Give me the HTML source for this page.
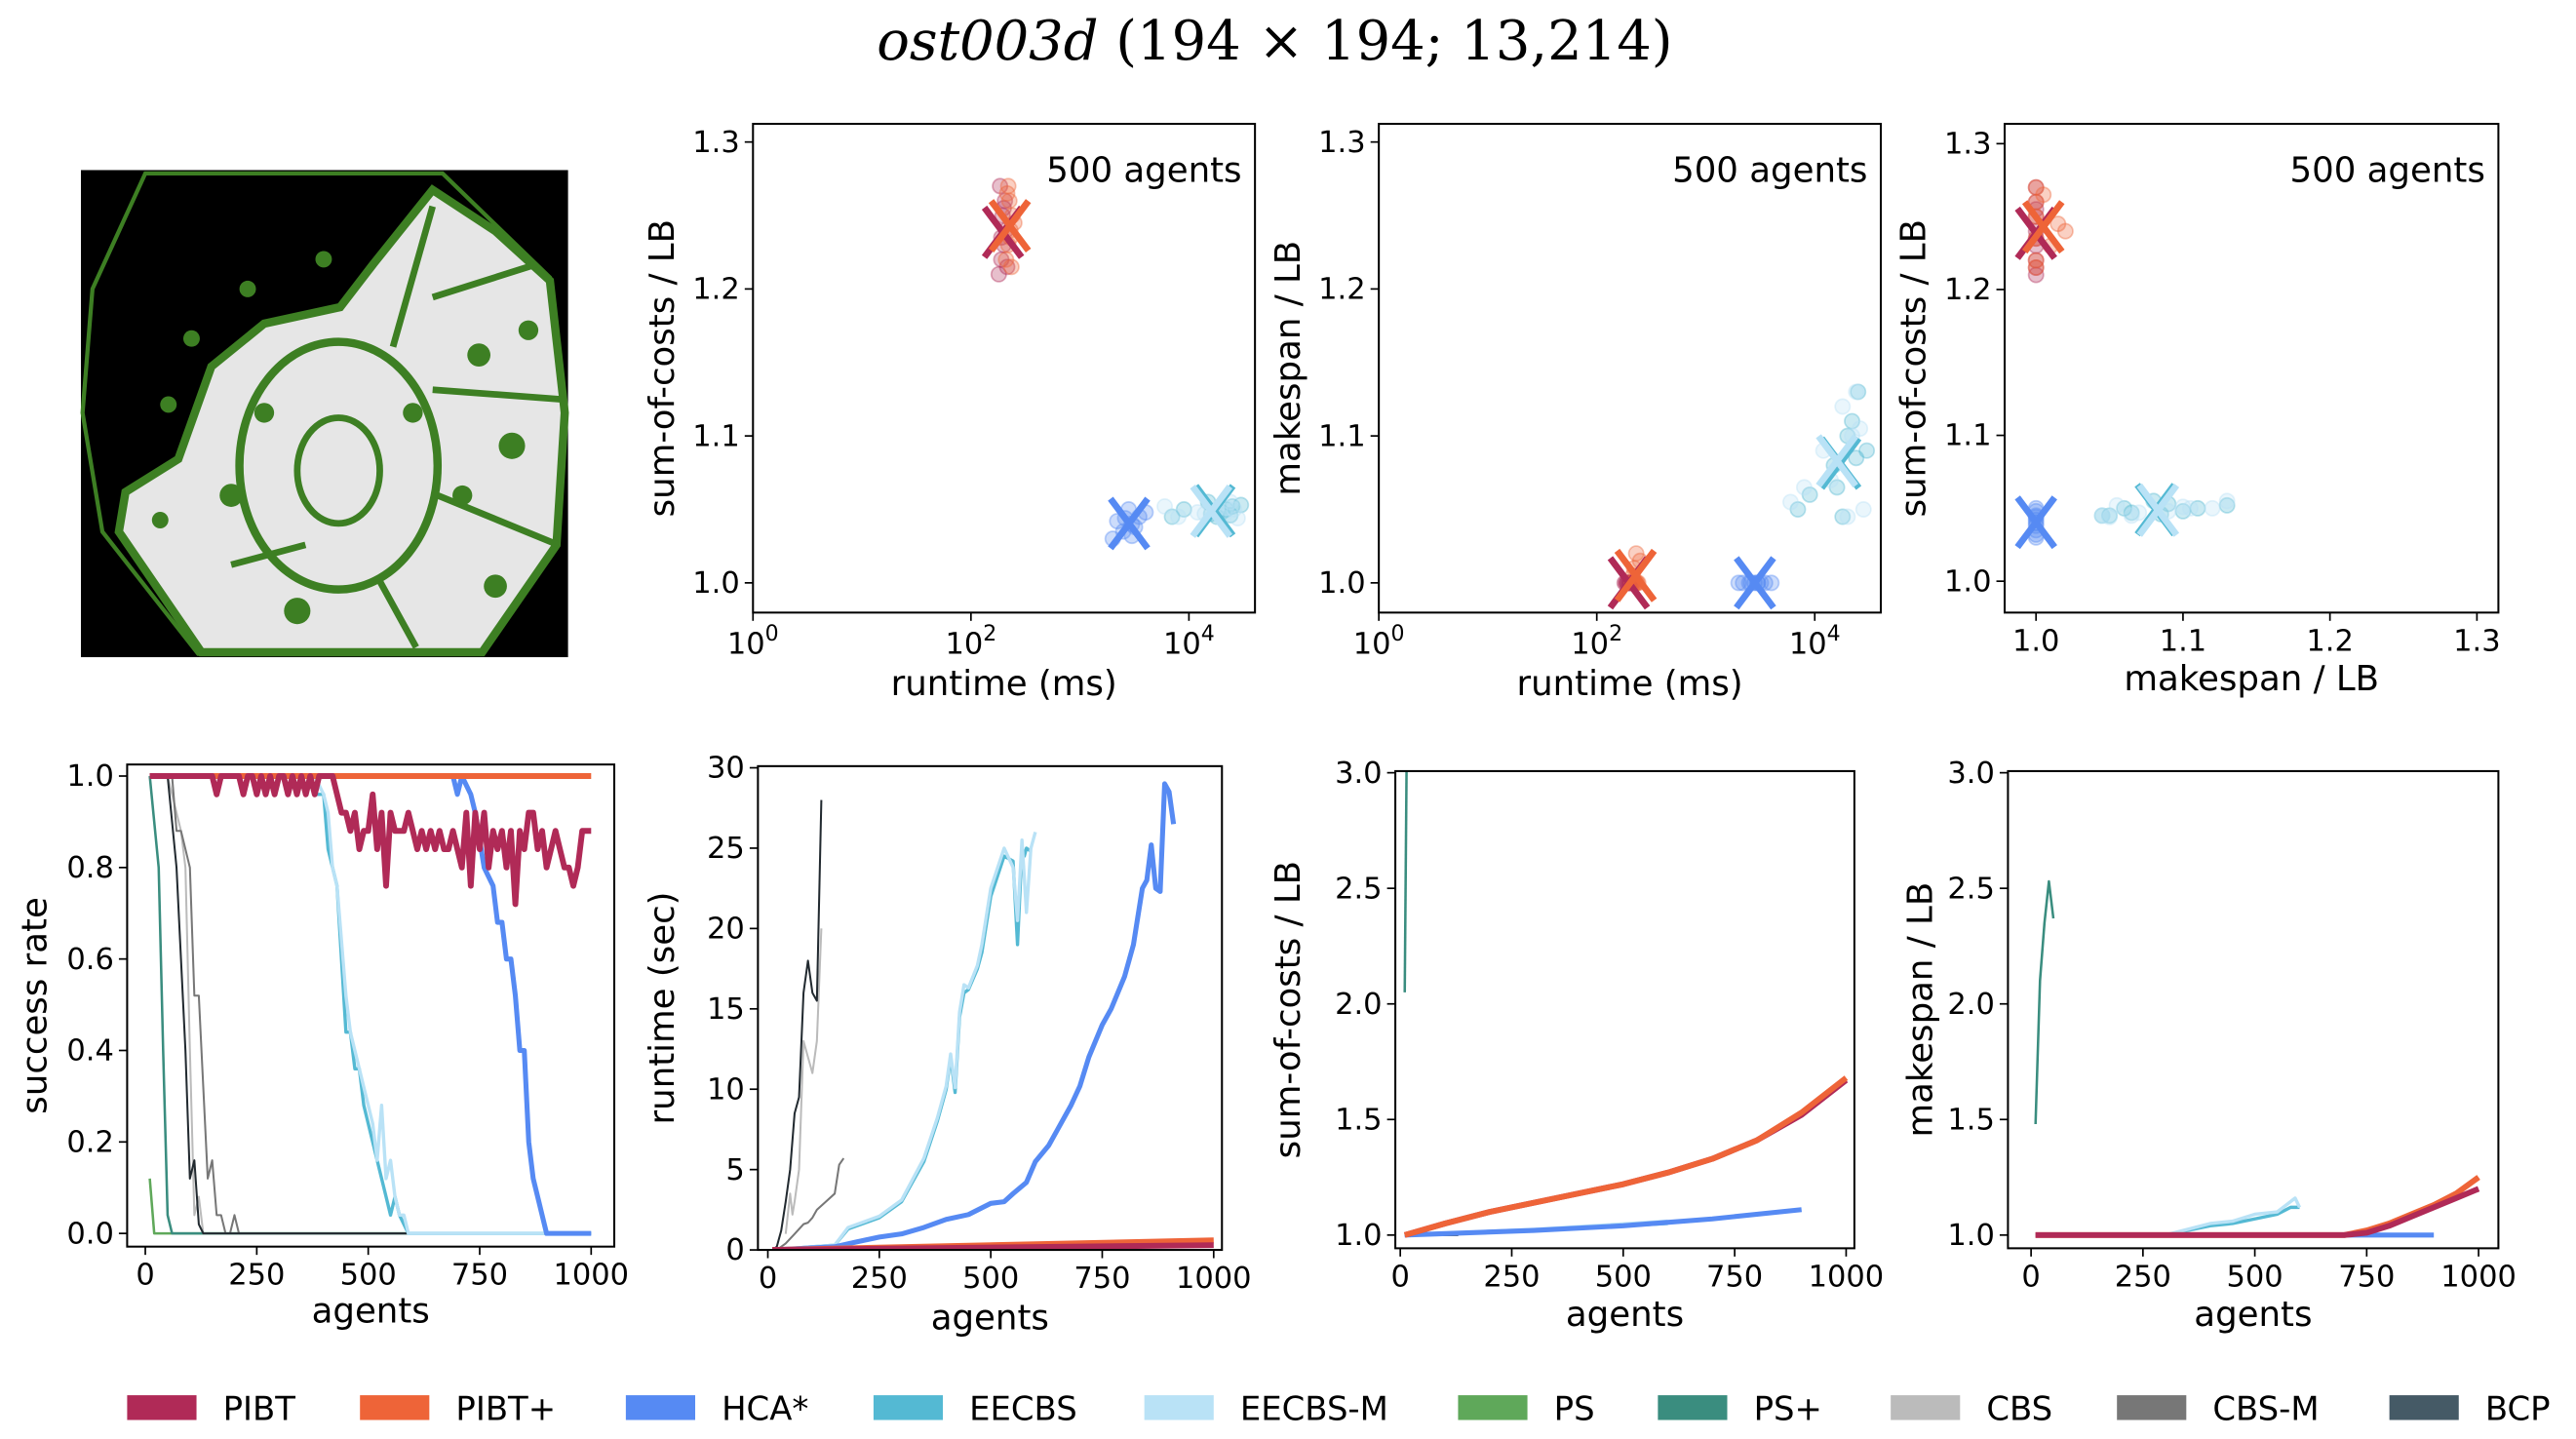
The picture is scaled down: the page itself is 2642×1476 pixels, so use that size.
<!DOCTYPE html>
<html><head><meta charset="utf-8">
<style>
html,body{margin:0;padding:0;background:#fff;}
svg{display:block;}
text{font-family:"DejaVu Sans","Liberation Sans",sans-serif;fill:#000;}
</style></head>
<body>
<svg id="root" xmlns="http://www.w3.org/2000/svg" width="2642" height="1476" viewBox="0 0 1560 871.5">
<rect x="0" y="0" width="1560" height="872" fill="#fff"/>
<text x="772" y="36" text-anchor="middle" font-size="33" style="font-family:'DejaVu Serif','Liberation Serif',serif"><tspan font-style="italic">ost003d</tspan> (194 × 194; 13,214)</text>
<g>
<rect x="49" y="103" width="295" height="295" fill="#000"/>
<polygon points="88,105 268,105 333,168 343,250 338,330 292,396 120,396 62,322 50,250 56,175" fill="none" stroke="#3d7f23" stroke-width="2.5"/>
<polygon points="226,160 262,115 300,140 333,170 342,250 337,330 292,395 122,395 72,322 76,298 108,278 128,222 160,196 206,186" fill="#e6e6e6" stroke="#3d7f23" stroke-width="5"/>
<ellipse cx="205" cy="282" rx="60" ry="75" fill="none" stroke="#3d7f23" stroke-width="5"/>
<ellipse cx="205" cy="285" rx="25" ry="32" fill="none" stroke="#3d7f23" stroke-width="4"/>
<line x1="230" y1="352" x2="252" y2="392" stroke="#3d7f23" stroke-width="4"/>
<line x1="265" y1="300" x2="338" y2="330" stroke="#3d7f23" stroke-width="4"/>
<line x1="262" y1="236" x2="342" y2="242" stroke="#3d7f23" stroke-width="4"/>
<line x1="140" y1="342" x2="185" y2="330" stroke="#3d7f23" stroke-width="4"/>
<line x1="238" y1="210" x2="262" y2="125" stroke="#3d7f23" stroke-width="4"/>
<line x1="262" y1="180" x2="325" y2="160" stroke="#3d7f23" stroke-width="4"/>
<circle cx="116" cy="205" r="5" fill="#3d7f23"/><circle cx="150" cy="175" r="5" fill="#3d7f23"/>
<circle cx="196" cy="157" r="5" fill="#3d7f23"/><circle cx="102" cy="245" r="5" fill="#3d7f23"/>
<circle cx="97" cy="315" r="5" fill="#3d7f23"/><circle cx="290" cy="215" r="7" fill="#3d7f23"/>
<circle cx="310" cy="270" r="8" fill="#3d7f23"/><circle cx="180" cy="370" r="8" fill="#3d7f23"/>
<circle cx="140" cy="300" r="7" fill="#3d7f23"/><circle cx="300" cy="355" r="7" fill="#3d7f23"/>
<circle cx="160" cy="250" r="6" fill="#3d7f23"/><circle cx="250" cy="250" r="6" fill="#3d7f23"/>
<circle cx="280" cy="300" r="6" fill="#3d7f23"/><circle cx="320" cy="200" r="6" fill="#3d7f23"/>
</g>
<g id="plots"></g>
<g id="legend"></g>
</svg>
<script>
// ---------- DATA ----------
const methods = ["PIBT","PIBT+","HCA*","EECBS","EECBS-M","PS","PS+","CBS","CBS-M","BCP"];
const colors = ["#b02a57","#ee6438","#568af3","#54b9d3","#b9e2f6","#5fa85a","#3a8d7f","#bbbbbb","#777777","#222a30"];
const widths = [3.5,3.5,3,2,2,1.5,1.5,1.2,1.2,1.2];

const srAgents = {
 "PIBT":[10,30,40,50,60,70,80,90,100,110,120,130,140,150,160,170,180,190,200,210,220,230,240,250,260,270,280,290,300,310,320,330,340,350,360,370,380,390,400,410,420,430,440,450,460,470,480,490,500,510,520,530,540,550,560,570,580,590,600,610,620,630,640,650,660,670,680,690,700,710,720,730,740,750,760,770,780,790,800,810,820,830,840,850,860,870,880,890,900,910,920,930,940,950,960,970,980,990,1000],
 "PIBT+":[10,1000],
 "HCA*":[10,690,700,710,730,740,760,780,790,800,810,820,830,840,850,860,870,880,890,900,910,1000],
 "EECBS":[10,370,380,400,410,420,430,440,450,460,470,480,490,500,510,520,530,540,550,560,570,580,590,600,1000],
 "EECBS-M":[10,380,400,410,420,430,440,450,460,470,480,490,500,510,520,530,540,550,560,570,580,590,600,1000],
 "PS":[10,20,1000],
 "PS+":[10,30,40,50,60,1000],
 "CBS":[10,50,70,80,90,100,110,120,130,1000],
 "CBS-M":[10,60,70,80,100,110,120,130,140,150,160,170,180,190,200,210,1000],
 "BCP":[10,50,60,70,80,90,100,110,120,130,1000]
};
const srValues = {
 "PIBT":[1,1,1,1,1,1,1,1,1,1,1,1,1,1,0.96,1,1,1,1,1,0.96,1,1,0.96,1,0.96,1,0.96,1,1,0.96,1,0.96,1,0.96,1,0.96,1,1,1,1,0.96,0.92,0.92,0.88,0.92,0.84,0.88,0.88,0.96,0.84,0.92,0.76,0.92,0.88,0.88,0.88,0.92,0.88,0.84,0.88,0.84,0.88,0.84,0.88,0.84,0.84,0.88,0.84,0.80,0.92,0.76,0.92,0.84,0.92,0.80,0.88,0.84,0.88,0.80,0.88,0.72,0.88,0.84,0.92,0.92,0.84,0.88,0.80,0.84,0.88,0.84,0.80,0.80,0.76,0.80,0.88,0.88,0.88],
 "PIBT+":[1,1],
 "HCA*":[1,1,0.96,1,0.96,0.92,0.80,0.76,0.68,0.68,0.60,0.60,0.52,0.40,0.40,0.20,0.12,0.08,0.04,0,0,0],
 "EECBS":[1,1,0.96,0.96,0.84,0.80,0.76,0.60,0.44,0.44,0.36,0.36,0.28,0.24,0.20,0.16,0.12,0.08,0.04,0.08,0.04,0.02,0,0,0],
 "EECBS-M":[1,1,0.96,0.92,0.80,0.76,0.64,0.52,0.44,0.40,0.36,0.32,0.28,0.24,0.16,0.28,0.12,0.16,0.08,0.04,0.04,0,0,0],
 "PS":[0.12,0,0],
 "PS+":[1,0.8,0.4,0.04,0,0],
 "CBS":[1,1,0.92,0.88,0.80,0.40,0.04,0.08,0,0],
 "CBS-M":[1,1,0.88,0.88,0.80,0.52,0.52,0.32,0.12,0.16,0.04,0.04,0,0,0.04,0,0],
 "BCP":[1,1,0.9,0.8,0.6,0.4,0.12,0.16,0.02,0,0]
};

const rtAgents = {
 "PIBT":[10,1000], "PIBT+":[10,1000],
 "HCA*":[10,150,200,250,300,350,400,450,500,530,550,580,600,630,650,680,700,720,750,770,800,820,840,850,860,870,880,890,900,910],
 "EECBS":[10,100,150,180,250,300,350,380,400,410,420,430,440,450,470,480,500,530,550,560,570,575,580,590],
 "EECBS-M":[10,100,150,180,250,300,350,380,400,410,420,430,440,450,470,480,500,530,550,560,570,580,590,600],
 "CBS":[40,50,55,60,70,80,90,100,110,120],
 "CBS-M":[20,40,60,80,90,100,110,130,150,160,170],
 "BCP":[10,20,30,40,50,60,70,80,90,100,110,120]
};
const rtValues = {
 "PIBT":[0,0.3], "PIBT+":[0,0.6],
 "HCA*":[0,0.2,0.5,0.8,1.0,1.4,1.9,2.2,2.9,3.0,3.5,4.2,5.5,6.5,7.5,9.0,10.2,12,14,15,17,19,22.5,23,25.2,22.5,22.3,29,28.5,26.5],
 "EECBS":[0,0.2,0.3,1.3,2.0,3.0,5.5,8,10,12,9.8,14.5,16,16.2,17.5,18.5,22,24.5,24.2,19,25,24.5,25,24.8],
 "EECBS-M":[0,0.2,0.3,1.4,2.1,3.1,5.7,8.2,10.2,12.2,10.1,14.8,16.5,16.3,17.7,19,22.5,25,23.8,20.5,25.5,21,25,26],
 "CBS":[1,3.5,2.2,3,5,13,12,11,13,20],
 "CBS-M":[0,0.4,1,1.6,1.7,2,2.5,3,3.5,5.3,5.7],
 "BCP":[0,0.2,1.2,3,5,8.5,9.5,16,18,16,15.5,28]
};

const socAgents = {
 "PS+":[10,15],
 "PIBT":[10,100,200,300,400,500,600,700,800,900,1000],
 "PIBT+":[10,100,200,300,400,500,600,700,800,900,1000],
 "HCA*":[10,300,500,700,900],
 "EECBS":[10,300,600], "EECBS-M":[10,300,600],
 "BCP":[10,130]
};
const socValues = {
 "PS+":[2.05,3.2],
 "PIBT":[1.0,1.05,1.1,1.14,1.18,1.22,1.27,1.33,1.41,1.52,1.67],
 "PIBT+":[1.0,1.05,1.1,1.14,1.18,1.22,1.27,1.33,1.41,1.53,1.68],
 "HCA*":[1.0,1.02,1.04,1.07,1.11],
 "EECBS":[1.0,1.02,1.05], "EECBS-M":[1.0,1.025,1.06],
 "BCP":[1.0,1.0]
};

const mkAgents = {
 "PS+":[10,20,30,40,50],
 "PIBT":[10,700,750,800,850,900,950,1000],
 "PIBT+":[10,700,750,800,850,900,950,1000],
 "HCA*":[10,900],
 "EECBS":[10,300,400,450,500,550,580,600],
 "EECBS-M":[10,300,400,450,500,550,570,590,600]
};
const mkValues = {
 "PS+":[1.48,2.1,2.35,2.53,2.37],
 "PIBT":[1.0,1.0,1.01,1.04,1.08,1.12,1.16,1.2],
 "PIBT+":[1.0,1.0,1.02,1.05,1.09,1.13,1.18,1.25],
 "HCA*":[1.0,1.0],
 "EECBS":[1.0,1.0,1.04,1.05,1.07,1.09,1.12,1.12],
 "EECBS-M":[1.0,1.0,1.05,1.06,1.09,1.1,1.13,1.16,1.12]
};

const scMethods = ["PIBT","PIBT+","HCA*","EECBS","EECBS-M"];
const scRuntime = {
 "PIBT":[180,190,200,210,195,205,185,215,200,190],
 "PIBT+":[210,220,230,240,225,215,235,250,220,230],
 "HCA*":[2000,2500,3000,3500,2800,3200,2200,4000,3000,2600],
 "EECBS":[7000,9000,15000,20000,25000,18000,22000,16000,30000,24000],
 "EECBS-M":[6000,8000,12000,18000,24000,20000,26000,14000,28000,22000]
};
const scSoc = {
 "PIBT":[1.21,1.22,1.23,1.24,1.25,1.26,1.27,1.215,1.255,1.235],
 "PIBT+":[1.22,1.23,1.24,1.25,1.26,1.265,1.215,1.245,1.27,1.235],
 "HCA*":[1.03,1.035,1.04,1.045,1.05,1.038,1.042,1.048,1.032,1.044],
 "EECBS":[1.045,1.05,1.055,1.048,1.052,1.045,1.05,1.047,1.053,1.046],
 "EECBS-M":[1.052,1.045,1.048,1.05,1.055,1.045,1.05,1.047,1.044,1.051]
};
const scMk = {
 "PIBT":[1,1,1,1,1,1,1,1,1,1],
 "PIBT+":[1,1.01,1.02,1,1,1.005,1,1.015,1,1],
 "HCA*":[1,1,1,1,1,1,1,1,1,1],
 "EECBS":[1.05,1.06,1.08,1.1,1.13,1.045,1.11,1.065,1.09,1.085],
 "EECBS-M":[1.055,1.065,1.09,1.12,1.13,1.045,1.105,1.07,1.05,1.1]
};

// ---------- DRAW ----------
const NS="http://www.w3.org/2000/svg";
const plots=document.getElementById('plots');
function mk(tag,attrs,parent){const e=document.createElementNS(NS,tag);for(const k in attrs)e.setAttribute(k,attrs[k]);(parent||plots).appendChild(e);return e;}

function axes(p){
 const g=mk('g',{});
 
 
 p.g=g;
 const cid='clip'+p.name;
 const cp=mk('clipPath',{id:cid},g);mk('rect',{x:p.x0,y:p.y0,width:p.x1-p.x0,height:p.y1-p.y0},cp);
 p.plot=mk('g',{'clip-path':'url(#'+cid+')'},g);
 p.yt.forEach(v=>{const y=p.sy(v);mk('line',{x1:p.x0-5,x2:p.x0,y1:y,y2:y,stroke:'#000','stroke-width':1},g);
  const t=mk('text',{x:p.x0-8,y:y+6,'text-anchor':'end','font-size':18},g);t.textContent=p.yfmt(v);});
 p.xt.forEach(v=>{const x=p.sx(v);mk('line',{x1:x,x2:x,y1:p.y1,y2:p.y1+5,stroke:'#000','stroke-width':1},g);
  if(p.log){const t=mk('text',{x:x,y:p.y1+25,'text-anchor':'middle','font-size':18},g);t.textContent='10';const s=mk('tspan',{dy:-8,'font-size':13},t);s.textContent=String(Math.round(Math.log10(v)));}
  else{const t=mk('text',{x:x,y:p.y1+23,'text-anchor':'middle','font-size':18},g);t.textContent=p.xfmt(v);}});
 const xl=mk('text',{x:(p.x0+p.x1)/2,y:p.y1+p.xlo,'text-anchor':'middle','font-size':21},g);xl.textContent=p.xl;
 
 
 const yx=p.ylx,yy=(p.y0+p.y1)/2;
 const yl=mk('text',{x:yx,y:yy,'text-anchor':'middle','font-size':21,transform:`rotate(-90 ${yx} ${yy})`},g);yl.textContent=p.yl;
 
 
 return p;
}
function frame(p){mk('rect',{x:p.x0,y:p.y0,width:p.x1-p.x0,height:p.y1-p.y0,fill:'none',stroke:'#000','stroke-width':1.2},p.g);}
function lin(a0,a1,p0,p1){return v=>p0+(v-a0)/(a1-a0)*(p1-p0);}
function logs(p0,dec){return v=>p0+Math.log10(v)*dec;}

function lines(p,ag,vals,order){
 order.forEach(m=>{if(!ag[m])return;const i=methods.indexOf(m);
  const pts=ag[m].map((a,k)=>p.sx(a).toFixed(1)+','+p.sy(vals[m][k]).toFixed(1)).join(' ');
  const l=mk('polyline',{points:pts,fill:'none',stroke:colors[i],'stroke-width':widths[i],'stroke-linejoin':'round'},p.plot);
  
  
 });
}
function scatter(p,xs,ys){
 scMethods.forEach(m=>{const i=methods.indexOf(m);
  xs[m].forEach((xv,k)=>{const c=mk('circle',{cx:p.sx(xv),cy:p.sy(ys[m][k]),r:4.5,fill:colors[i],'fill-opacity':0.3,stroke:colors[i],'stroke-opacity':0.4},p.plot);
   
   });
 });
 scMethods.forEach(m=>{const i=methods.indexOf(m);
  const mx=p.logx?Math.pow(10,xs[m].reduce((s,v)=>s+Math.log10(v),0)/xs[m].length):xs[m].reduce((s,v)=>s+v,0)/xs[m].length;
  const my=ys[m].reduce((s,v)=>s+v,0)/ys[m].length;
  const cx=p.sx(mx),cy=p.sy(my),d=15;
  const g=mk('g',{},p.plot);
  
  
  mk('path',{d:`M${cx-d*0.75} ${cy-d}L${cx+d*0.75} ${cy+d}M${cx+d*0.75} ${cy-d}L${cx-d*0.75} ${cy+d}`,stroke:colors[i],'stroke-width':4},g);
 });
 const t=mk('text',{x:p.x1-8,y:p.y0+35,'text-anchor':'end','font-size':21},p.g);t.textContent='500 agents';
 
 
}
const f1=v=>v.toFixed(1), f0=v=>String(v);
const ag=[0,250,500,750,1000];

let s1=axes({name:'scatter-soc-runtime',x0:456,x1:760,y0:75,y1:371,sx:logs(456,66),sy:lin(1.0,1.3,353,86),log:true,logx:true,xt:[1,100,10000],yt:[1.0,1.1,1.2,1.3],yfmt:f1,xl:'runtime (ms)',yl:'sum-of-costs / LB',xlo:50,ylx:408});
scatter(s1,scRuntime,scSoc);frame(s1);
let s2=axes({name:'scatter-makespan-runtime',x0:835,x1:1139,y0:75,y1:371,sx:logs(835,66),sy:lin(1.0,1.3,353,86),log:true,logx:true,xt:[1,100,10000],yt:[1.0,1.1,1.2,1.3],yfmt:f1,xl:'runtime (ms)',yl:'makespan / LB',xlo:50,ylx:787});
scatter(s2,scRuntime,scMk);frame(s2);
let s3=axes({name:'scatter-soc-makespan',x0:1214,x1:1513,y0:75,y1:371,sx:lin(1.0,1.3,1233,1500),sy:lin(1.0,1.3,352,87),logx:false,xt:[1.0,1.1,1.2,1.3],xfmt:f1,yt:[1.0,1.1,1.2,1.3],yfmt:f1,xl:'makespan / LB',yl:'sum-of-costs / LB',xlo:47,ylx:1166});
scatter(s3,scMk,scSoc);frame(s3);

let b1=axes({name:'success-rate-chart',x0:77,x1:372,y0:463,y1:755,sx:lin(0,1000,88,358),sy:lin(0,1,747,470),xt:ag,xfmt:f0,yt:[0,0.2,0.4,0.6,0.8,1.0],yfmt:f1,xl:'agents',yl:'success rate',xlo:46,ylx:28});
lines(b1,srAgents,srValues,["PS","PS+","CBS","CBS-M","BCP","EECBS","EECBS-M","HCA*","PIBT+","PIBT"]);frame(b1);
let b2=axes({name:'runtime-chart',x0:459,x1:740,y0:464,y1:757,sx:lin(0,1000,465,735),sy:lin(0,30,757,465),xt:ag,xfmt:f0,yt:[0,5,10,15,20,25,30],yfmt:f0,xl:'agents',yl:'runtime (sec)',xlo:48,ylx:408});
lines(b2,rtAgents,rtValues,["CBS","CBS-M","BCP","EECBS","EECBS-M","HCA*","PIBT+","PIBT"]);frame(b2);
let b3=axes({name:'soc-chart',x0:845,x1:1123,y0:467,y1:756,sx:lin(0,1000,848,1118),sy:lin(1,3,748,468),xt:ag,xfmt:f0,yt:[1.0,1.5,2.0,2.5,3.0],yfmt:f1,xl:'agents',yl:'sum-of-costs / LB',xlo:47,ylx:787});
lines(b3,socAgents,socValues,["PS+","BCP","EECBS","EECBS-M","HCA*","PIBT","PIBT+"]);frame(b3);
let b4=axes({name:'makespan-chart',x0:1216,x1:1513,y0:467,y1:756,sx:lin(0,1000,1230,1501),sy:lin(1,3,748,468),xt:ag,xfmt:f0,yt:[1.0,1.5,2.0,2.5,3.0],yfmt:f1,xl:'agents',yl:'makespan / LB',xlo:47,ylx:1170});
lines(b4,mkAgents,mkValues,["PS+","EECBS","EECBS-M","HCA*","PIBT+","PIBT"]);frame(b4);

const lg=document.getElementById('legend');
const lx=[77,218,379,529,693,883,1004,1145,1282,1447];
methods.forEach((m,i)=>{
 const g=mk('g',{},lg);
 
 
 mk('rect',{x:lx[i],y:845,width:42,height:15,fill:colors[i]==='#222a30'?'#455a66':colors[i]},g);
 const t=mk('text',{x:lx[i]+58,y:860,'font-size':20},g);t.textContent=m;
});
</script>
</body></html>
